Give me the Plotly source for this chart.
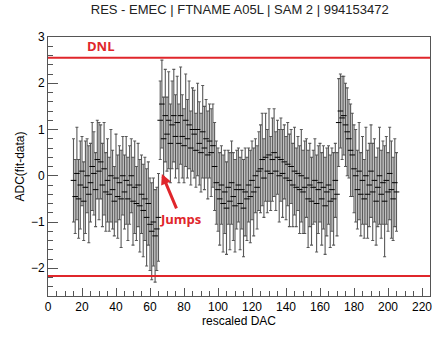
import plotly.graph_objects as go

title_text = "RES - EMEC | FTNAME A05L | SAM 2 | 994153472"
x_label = "rescaled DAC"
y_label = "ADC(fit-data)"

dac = list(range(15, 206))

adc_diff = [
    -0.1, -0.45, 0.05, -0.5, -0.2, 0.1, -0.55, -0.25, 0.0, -0.4,
    -0.15, 0.2, 0.05, -0.3, 0.35, 0.1, 0.3, -0.2, 0.15, -0.35,
    -0.1, -0.4, 0.0, -0.3, -0.55, -0.05, -0.45, -0.15, -0.5, 0.0,
    -0.35, -0.1, -0.5, -0.2, 0.0, -0.55, -0.25, -0.6, -0.2, -0.65,
    -0.4, -0.75, -0.5, -0.9, -0.6, -1.05, -1.2, -1.0, -1.3, -1.15, -0.9,
    1.2, 1.55, 0.8, 1.3, 0.9, 1.2, 0.7, 1.1, 1.3, 0.85,
    1.15, 0.7, 1.3, 0.85, 0.65, 1.2, 0.8, 1.1, 0.6, 1.0,
    0.9, 0.55, 1.0, 0.7, 0.5, 0.95, 0.6, 0.8, 0.45, 0.75, 0.5, 0.65,
    0.2, -0.15, -0.3,
    -0.5, -0.2, -0.6, -0.35, -0.7, -0.25, -0.55, -0.15, -0.45, -0.65, -0.3, -0.2,
    -0.6, -0.3, -0.7, -0.35, -0.5, -0.2, -0.45, -0.1, -0.35, 0.0, -0.25, 0.1,
    0.15, 0.35, -0.05, 0.4, 0.1, 0.45, 0.05, 0.35, 0.5, 0.1, 0.4, 0.0, 0.35, 0.05, 0.3, -0.05,
    0.25, -0.1, 0.2, -0.2, 0.1, -0.25, 0.05, -0.3, 0.0, -0.35,
    -0.25, -0.05, -0.5, -0.2, -0.55, -0.25, -0.1, -0.6, -0.3, -0.15,
    -0.5, -0.25, -0.65, -0.35, -0.2, -0.55, -0.3, -0.5, -0.1, -0.4,
    1.15, 1.4, 1.25, 1.3, 1.1, 0.95, 0.8, 0.55, 0.45, 0.15,
    0.0, -0.3, 0.1, -0.4, -0.1, -0.5, 0.0, -0.4, -0.2, 0.1,
    -0.35, -0.1, -0.55, -0.25, 0.0, -0.4, -0.15, -0.55, -0.1, -0.35,
    0.05, -0.3, -0.5, -0.15, -0.35,
]

adc_err = [
    0.9, 0.8, 1.0, 0.85, 0.95, 0.75, 0.85, 1.0, 0.8, 1.05,
    0.85, 0.95, 0.9, 0.8, 0.85, 1.05, 0.8, 0.9, 1.0, 0.85,
    0.9, 0.8, 1.0, 0.85, 0.75, 0.95, 0.9, 0.8, 1.05, 0.85,
    0.8, 0.95, 0.9, 0.85, 0.8, 0.95, 1.0, 0.8, 0.9, 1.0,
    0.85, 1.0, 0.9, 1.05, 0.9, 1.0, 1.05, 0.95, 1.0, 0.9, 0.95,
    0.85, 0.95, 0.9, 1.0, 0.8, 1.05, 0.85, 0.95, 1.0, 0.9,
    1.0, 0.85, 1.05, 0.9, 0.8, 1.0, 0.85, 0.95, 0.8, 0.9,
    0.95, 0.8, 1.0, 0.9, 0.85, 1.0, 0.9, 0.85, 0.95, 0.8, 0.95, 0.9,
    0.95, 0.9, 0.9,
    1.0, 0.85, 1.05, 0.9, 1.0, 0.8, 1.05, 0.9, 0.95, 1.0, 0.85, 0.8,
    1.0, 0.85, 1.05, 0.95, 0.9, 0.8, 1.0, 0.85, 0.95, 0.8, 0.9, 0.85,
    0.95, 1.0, 0.85, 0.95, 0.9, 1.0, 0.8, 0.9, 0.95, 0.85, 0.8, 1.0, 0.9, 0.95, 0.8, 0.9,
    0.9, 1.0, 0.8, 0.9, 0.95, 0.85, 0.8, 0.95, 1.0, 0.9,
    1.0, 0.85, 1.05, 0.9, 0.95, 0.8, 0.9, 1.05, 0.95, 0.85,
    1.0, 0.9, 1.05, 0.95, 0.85, 1.0, 0.9, 1.0, 0.8, 0.9,
    0.95, 0.8, 0.9, 0.85, 0.9, 0.95, 0.85, 1.0, 0.9, 0.95,
    1.0, 0.85, 1.05, 0.9, 0.95, 0.85, 1.05, 0.95, 0.9, 1.0,
    1.05, 0.9, 0.95, 0.85, 1.05, 0.95, 0.9, 1.2, 0.95, 0.85,
    1.0, 1.05, 0.9, 0.95, 0.85,
]

dnl_upper = 2.55
dnl_lower = -2.17
x_range = [0, 224.7]
y_range = [-2.6, 3.0]
jump_point = [67, 0.04]

red = "#e0262b"
font_main = "Liberation Sans, Arial, sans-serif"

fig = go.Figure()

fig.add_trace(go.Scatter(
    x=dac, y=adc_diff, mode="markers",
    marker=dict(symbol="line-ew", size=4, color="black",
                line=dict(color="black", width=1)),
    error_y=dict(type="data", array=adc_err, visible=True,
                 color="rgba(60,60,60,0.85)", thickness=1.1, width=1.5),
    showlegend=False, hoverinfo="skip",
))

for yv in (dnl_upper, dnl_lower):
    fig.add_trace(go.Scatter(
        x=x_range, y=[yv, yv], mode="lines",
        line=dict(color=red, width=2), showlegend=False, hoverinfo="skip",
    ))

fig.add_annotation(x=22, y=2.8, xref="x", yref="y", text="<b>DNL</b>",
                   showarrow=False, xanchor="left",
                   font=dict(family="Open Sans, Liberation Sans, sans-serif", size=13, color=red))

fig.add_annotation(x=jump_point[0], y=jump_point[1], xref="x", yref="y",
                   text="<b>Jumps</b>", showarrow=True,
                   ax=19, ay=45, arrowcolor=red, arrowwidth=3,
                   arrowhead=2, arrowsize=0.7, standoff=0,
                   font=dict(family="Open Sans, Liberation Sans, sans-serif", size=13, color=red))

fig.update_layout(
    width=444, height=337,
    margin=dict(l=48, r=13, t=37, b=26),
    paper_bgcolor="white", plot_bgcolor="white",
    font=dict(family=font_main, size=12, color="black"),
    title=dict(text=title_text, x=0.54, xanchor="center", y=0.985, yanchor="top",
               font=dict(family=font_main, size=13, color="#222")),
)

fig.update_xaxes(
    range=x_range, showgrid=False, zeroline=False,
    showline=True, linecolor="#555", linewidth=1, mirror=True,
    ticks="inside", ticklen=8, tickcolor="#555", tickwidth=1,
    tick0=0, dtick=20,
    minor=dict(ticks="inside", ticklen=5, dtick=5, tick0=0, tickcolor="#555"),
    tickfont=dict(size=12),
    title=dict(text=x_label, font=dict(size=12), standoff=2),
)

fig.update_yaxes(
    range=y_range, showgrid=False, zeroline=False,
    showline=True, linecolor="#555", linewidth=1, mirror=True,
    ticks="inside", ticklen=10, tickcolor="#555", tickwidth=1,
    tick0=0, dtick=1,
    minor=dict(ticks="inside", ticklen=5, dtick=0.2, tick0=0, tickcolor="#555"),
    tickfont=dict(size=12),
    title=dict(text=y_label, font=dict(size=12), standoff=3),
)

fig.write_html("out.html")
